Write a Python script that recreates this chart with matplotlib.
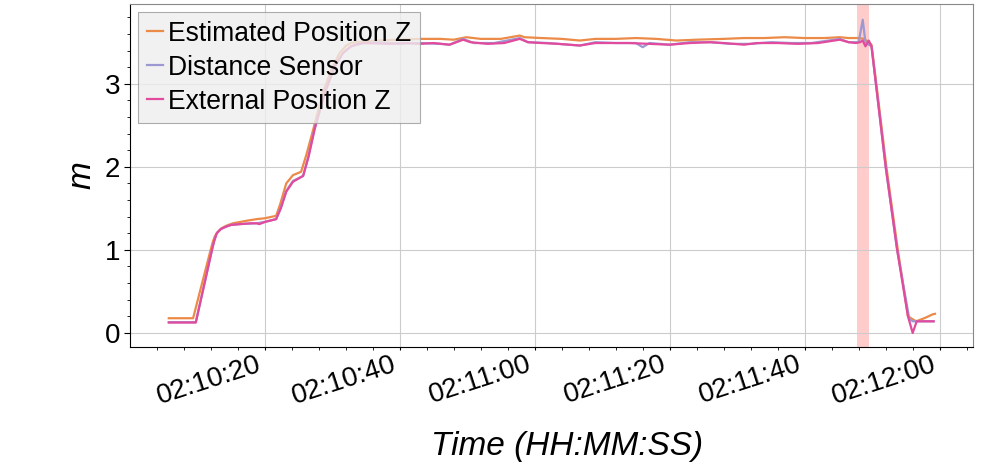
import datetime
import numpy as np
import matplotlib
matplotlib.use('Agg')
import matplotlib.pyplot as plt
import matplotlib.dates as mdates

plt.rcParams['font.family'] = ['Liberation Sans', 'DejaVu Sans']

# seconds after 02:10:00
est_t = [5.8, 9.4, 12.0, 12.3, 12.6, 13.0, 13.6, 14.3, 15.3, 17.3, 18.8, 20.0, 21.7,
         22.3, 23.2, 24.2, 25.4, 26.2, 27.2, 28.6, 29.9, 31.1, 32.1, 32.8, 33.6, 36.5,
         40, 43, 46, 48, 49.9, 52, 55, 57.8, 58.5, 61, 64, 66.7, 69, 72, 75, 78, 81,
         84, 88, 91, 94, 97, 100, 103, 105.2, 106.5, 108.0, 108.8, 109.3, 109.9, 110.6,
         112.1, 113.8, 115.3, 116.5, 117.8, 119.0, 119.3]
est_z = [0.177, 0.177, 1.0, 1.09, 1.16, 1.21, 1.26, 1.29, 1.32, 1.35, 1.37, 1.38, 1.41,
         1.55, 1.80, 1.90, 1.94, 2.15, 2.45, 2.89, 3.17, 3.37, 3.46, 3.49, 3.50, 3.52,
         3.53, 3.54, 3.54, 3.53, 3.56, 3.54, 3.54, 3.58, 3.56, 3.55, 3.54, 3.52, 3.54,
         3.54, 3.55, 3.54, 3.52, 3.53, 3.54, 3.55, 3.55, 3.56, 3.55, 3.55, 3.56, 3.55,
         3.55, 3.54, 3.51, 3.47, 3.01, 2.0, 1.0, 0.20, 0.14, 0.18, 0.225, 0.23]

dist_t = [5.8, 9.8, 12.2, 12.5, 12.9, 13.5, 14.3, 15.0, 16.3, 18.8, 20.2, 21.7, 22.4,
          23.2, 24.2, 25.7, 26.5, 27.4, 28.9, 30.4, 31.6, 32.8, 33.6, 34.6, 37, 40, 43,
          46, 47.4, 49.4, 51, 54, 57.8, 59, 62, 65, 66.7, 69, 72, 75, 76, 77, 80, 83,
          86, 89, 92, 95, 98, 101, 105.2, 106.5, 108.0, 108.6, 109.0, 109.5, 109.9,
          112.0, 113.7, 115.5, 116.0, 119.1]
dist_z = [0.13, 0.13, 1.0, 1.1, 1.2, 1.25, 1.28, 1.30, 1.31, 1.32, 1.34, 1.37, 1.51,
          1.71, 1.83, 1.89, 2.13, 2.46, 2.89, 3.21, 3.37, 3.45, 3.47, 3.49, 3.50, 3.48,
          3.49, 3.48, 3.47, 3.54, 3.49, 3.49, 3.55, 3.50, 3.49, 3.47, 3.46, 3.50, 3.49,
          3.49, 3.44, 3.49, 3.47, 3.50, 3.50, 3.48, 3.48, 3.50, 3.49, 3.49, 3.54, 3.50,
          3.50, 3.77, 3.50, 3.47, 3.45, 2.0, 1.0, 0.17, 0.14, 0.14]

ext_t = [5.8, 9.8, 12.2, 12.5, 12.9, 13.5, 14.3, 15.0, 16.3, 18.0, 18.8, 19.2, 20.2,
         21.7, 22.4, 23.2, 24.2, 25.7, 26.5, 27.4, 28.9, 30.4, 31.6, 32.8, 33.6, 34.6,
         38.5, 41, 43, 45, 47.4, 49.4, 50.5, 53, 55.5, 57.8, 59, 61, 63.5, 66.7, 69,
         71, 74, 77, 80, 83, 86, 88, 91, 93, 96, 99, 102, 105.2, 106.5, 107.6, 108.2,
         108.6, 109.0, 109.5, 109.9, 112.0, 113.7, 115.3, 116.0, 116.6, 119.1]
ext_z = [0.125, 0.125, 1.0, 1.1, 1.2, 1.25, 1.28, 1.30, 1.31, 1.32, 1.32, 1.31, 1.34,
         1.37, 1.50, 1.70, 1.82, 1.89, 2.12, 2.45, 2.89, 3.21, 3.37, 3.45, 3.47, 3.49,
         3.48, 3.49, 3.48, 3.49, 3.47, 3.53, 3.50, 3.48, 3.49, 3.54, 3.50, 3.49, 3.48,
         3.46, 3.49, 3.49, 3.49, 3.48, 3.47, 3.49, 3.50, 3.49, 3.47, 3.49, 3.49, 3.48,
         3.49, 3.53, 3.50, 3.49, 3.50, 3.52, 3.45, 3.52, 3.45, 2.0, 1.0, 0.20, 0.0,
         0.14, 0.14]

# highlighted interval (seconds after 02:10:00)
span = (107.8, 109.6)

t0 = datetime.datetime(2021, 1, 1, 2, 10, 0)

def to_dt(secs):
    return [t0 + datetime.timedelta(seconds=s) for s in secs]

fig = plt.figure(figsize=(9.96, 4.69), dpi=100)
ax = fig.add_axes([0.1305, 0.26, 0.8465, 0.7315])

ax.axvspan(to_dt([span[0]])[0], to_dt([span[1]])[0], color='#ff0000', alpha=0.2, lw=0)
ax.plot(to_dt(est_t), est_z, color='#ec8a48', lw=1.6, label='Estimated Position Z')
ax.plot(to_dt(dist_t), dist_z, color='#9c98d2', lw=1.6, label='Distance Sensor')
ax.plot(to_dt(ext_t), ext_z, color='#e24b9d', lw=1.6, label='External Position Z')

ax.set_xlim(t0 + datetime.timedelta(seconds=0.05), t0 + datetime.timedelta(seconds=124.95))
ax.set_ylim(-0.17, 3.96)

ax.xaxis.set_major_locator(mdates.SecondLocator(bysecond=[0, 20, 40]))
ax.xaxis.set_minor_locator(mdates.SecondLocator(bysecond=range(0, 60, 4)))
ax.xaxis.set_major_formatter(mdates.DateFormatter('%H:%M:%S'))
ax.set_yticks([0, 1, 2, 3])
ax.set_yticks(np.arange(0, 4.0, 0.2), minor=True)

ax.grid(True, which='major', color='#cccccc', lw=0.8)
ax.tick_params(which='major', labelsize=20, length=4, width=0.8, pad=3)
ax.tick_params(which='minor', length=2.5, width=0.6)
ax.tick_params(axis='x', which='major', length=2.5, pad=0.5)
for lbl in ax.get_xticklabels():
    lbl.set_rotation(18)
    lbl.set_ha('right')
for sp in ['top', 'right']:
    ax.spines[sp].set_color('#888888')

ax.set_xlabel('Time (HH:MM:SS)', fontsize=24, style='italic')
ax.xaxis.set_label_coords(0.518, -0.245)
ax.set_ylabel('m', fontsize=24, style='italic', labelpad=5)

leg = ax.legend(loc='upper left', fontsize=19.1, handlelength=0.6, handletextpad=0.2,
                labelspacing=0.3, borderpad=0.33, borderaxespad=0.3,
                fancybox=False, edgecolor='#999999', facecolor='#eeeeee', framealpha=0.8)
leg.get_frame().set_linewidth(0.8)

plt.savefig('out.png', dpi=100)
